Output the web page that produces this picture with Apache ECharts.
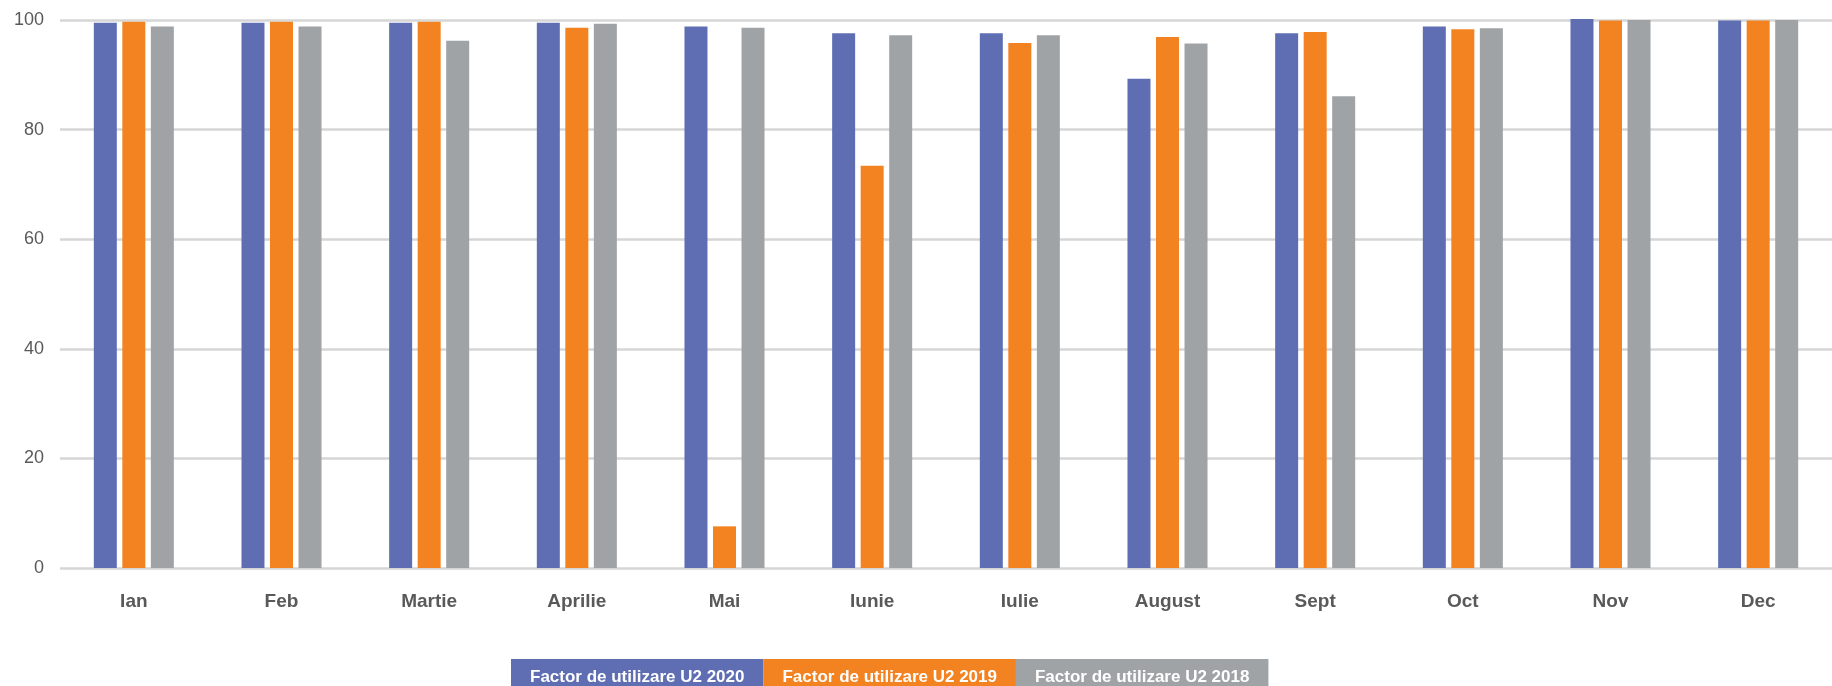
<!DOCTYPE html>
<html>
<head>
<meta charset="utf-8">
<title>Factor de utilizare U2</title>
<script src="https://cdn.jsdelivr.net/npm/echarts@6/dist/echarts.min.js"></script>
<style>
  html, body { margin: 0; padding: 0; background: #ffffff; }
  #chart { width: 1832px; height: 686px; }
</style>
</head>
<body>
<div id="chart"></div>
<script>
// Monthly utilisation factor of unit U2, three years side by side
const months = ['Ian', 'Feb', 'Martie', 'Aprilie', 'Mai', 'Iunie', 'Iulie', 'August', 'Sept', 'Oct', 'Nov', 'Dec'];

const seriesNames = ['Factor de utilizare U2 2020', 'Factor de utilizare U2 2019', 'Factor de utilizare U2 2018'];

const u2_2020 = [99.5, 99.5, 99.5, 99.5, 98.8, 97.6, 97.6, 89.3, 97.6, 98.8, 100.2, 99.9];
const u2_2019 = [99.7, 99.7, 99.7, 98.6, 7.6, 73.4, 95.8, 96.9, 97.8, 98.3, 99.9, 99.9];
const u2_2018 = [98.8, 98.8, 96.2, 99.3, 98.6, 97.2, 97.2, 95.7, 86.1, 98.5, 100.0, 100.0];

const colors = ['#5f6eb3', '#f38221', '#a0a3a6'];
const seriesData = [u2_2020, u2_2019, u2_2018];

const FONT = "'Liberation Sans', Arial, sans-serif";
const chart = echarts.init(document.getElementById('chart'), null, { renderer: 'canvas' });

chart.setOption({
  backgroundColor: '#ffffff',
  animation: false,
  color: colors,
  grid: { left: 60, top: 20, width: 1777, height: 548, containLabel: false },
  legend: {
    left: 501,
    top: 654,
    orient: 'horizontal',
    itemWidth: 0,
    itemHeight: 0,
    itemGap: -5,
    selectedMode: false,
    data: seriesNames.map((name, i) => ({
      name: name,
      icon: 'none',
      textStyle: {
        color: '#ffffff',
        fontFamily: FONT,
        fontWeight: 'bold',
        fontSize: 17,
        lineHeight: 20,
        backgroundColor: colors[i],
        padding: [8, 19, 8, 19]
      }
    }))
  },
  xAxis: {
    type: 'category',
    data: months,
    axisLine: { show: false },
    axisTick: { show: false },
    axisLabel: {
      color: '#595959',
      fontFamily: FONT,
      fontWeight: 'bold',
      fontSize: 19,
      margin: 24
    },
    splitLine: { show: false }
  },
  yAxis: {
    type: 'value',
    min: 0,
    max: 100,
    interval: 20,
    axisLine: { show: false },
    axisTick: { show: false },
    axisLabel: {
      color: '#595959',
      fontFamily: FONT,
      fontSize: 18,
      margin: 16
    },
    splitLine: { lineStyle: { color: '#d6d6d6', width: 2.5 } }
  },
  series: seriesNames.map((name, i) => ({
    name: name,
    type: 'bar',
    data: seriesData[i],
    barWidth: 23,
    barGap: '24%',
    clip: false,
    itemStyle: { color: colors[i] }
  }))
});
</script>
</body>
</html>
